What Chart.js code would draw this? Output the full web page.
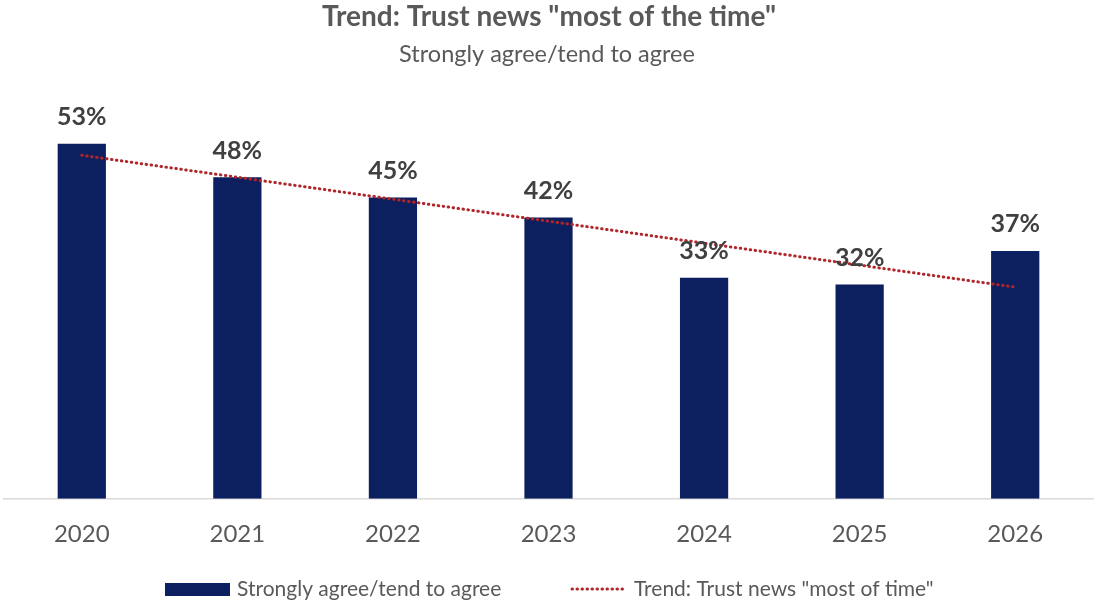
<!DOCTYPE html>
<html>
<head>
<meta charset="utf-8">
<script src="https://cdn.jsdelivr.net/npm/chart.js@4"></script>
<style>
  html, body { margin: 0; padding: 0; background: #ffffff; }
  #wrap { width: 1094px; height: 601px; position: relative; }
</style>
</head>
<body>
<div id="wrap"><canvas id="c"></canvas></div>
<script>
const categories = ["2020", "2021", "2022", "2023", "2024", "2025", "2026"];
const agreeValues = [53, 48, 45, 42, 33, 32, 37];
const agreeLabels = ["53%", "48%", "45%", "42%", "33%", "32%", "37%"];
// Trend line endpoints (straight dotted line 2020 → 2026)
const trendValues = [51.3, null, null, null, null, null, 31.6];
const titleText = 'Trend: Trust news "most of the time"';
const subtitleText = 'Strongly agree/tend to agree';
const barSeriesName = 'Strongly agree/tend to agree';
const trendSeriesName = 'Trend: Trust news "most of time"';

const FONT = 'Lato, "Open Sans", sans-serif';
const NAVY = '#0C1F5E';
const RED = '#B0262A';
const GREY = '#595959';

const headerPlugin = {
  id: 'header',
  afterDraw(chart) {
    const ctx = chart.ctx;
    ctx.save();
    ctx.textAlign = 'center';
    ctx.textBaseline = 'alphabetic';
    ctx.fillStyle = GREY;
    ctx.font = 'bold 28px ' + FONT;
    ctx.fillText(titleText, 549, 26);
    ctx.font = '23.5px ' + FONT;
    ctx.fillText(subtitleText, 547, 62);
    ctx.restore();
  }
};

const labelPlugin = {
  id: 'barLabels',
  afterDatasetsDraw(chart) {
    const ctx = chart.ctx;
    const meta = chart.getDatasetMeta(0);
    ctx.save();
    ctx.font = 'bold 25px ' + FONT;
    ctx.fillStyle = '#404040';
    ctx.textAlign = 'center';
    ctx.textBaseline = 'alphabetic';
    meta.data.forEach((el, i) => {
      ctx.fillText(agreeLabels[i], el.x, el.y - 18.5);
    });
    ctx.restore();
  }
};

const legendPlugin = {
  id: 'customLegend',
  afterDraw(chart) {
    const ctx = chart.ctx;
    const y = 589;
    ctx.save();
    ctx.font = '21px ' + FONT;
    ctx.textBaseline = 'middle';
    ctx.textAlign = 'left';
    ctx.fillStyle = NAVY;
    ctx.fillRect(165, y - 6, 65, 13);
    ctx.fillStyle = GREY;
    ctx.fillText(chart.data.datasets[0].label, 237, y);
    ctx.strokeStyle = RED;
    ctx.lineWidth = 3;
    ctx.lineCap = 'round';
    ctx.setLineDash([0.5, 4.5]);
    ctx.beginPath();
    ctx.moveTo(572, y);
    ctx.lineTo(626, y);
    ctx.stroke();
    ctx.setLineDash([]);
    ctx.fillText(chart.data.datasets[1].label, 634, y);
    ctx.restore();
  }
};

new Chart(document.getElementById('c'), {
  data: {
    labels: categories,
    datasets: [
      {
        type: 'bar',
        label: barSeriesName,
        data: agreeValues,
        backgroundColor: NAVY,
        barPercentage: 0.62,
        categoryPercentage: 0.5,
        order: 2
      },
      {
        type: 'line',
        label: trendSeriesName,
        data: trendValues,
        spanGaps: true,
        borderColor: RED,
        borderWidth: 3,
        borderCapStyle: 'round',
        borderDash: [0.5, 4.5],
        pointRadius: 0,
        fill: false,
        order: 1
      }
    ]
  },
  options: {
    responsive: true,
    maintainAspectRatio: false,
    animation: false,
    layout: { padding: { left: 4, right: 1, top: 97, bottom: 38.5 } },
    plugins: {
      legend: { display: false },
      tooltip: { enabled: false },
      title: { display: false },
      subtitle: { display: false }
    },
    scales: {
      x: {
        offset: true,
        grid: { display: false },
        border: { display: true, color: '#D9D9D9', width: 1.5 },
        ticks: {
          color: GREY,
          font: { family: FONT, size: 24 },
          padding: 13.5
        }
      },
      y: {
        display: false,
        min: 0,
        max: 60
      }
    }
  },
  plugins: [labelPlugin, legendPlugin, headerPlugin]
});
</script>
</body>
</html>
